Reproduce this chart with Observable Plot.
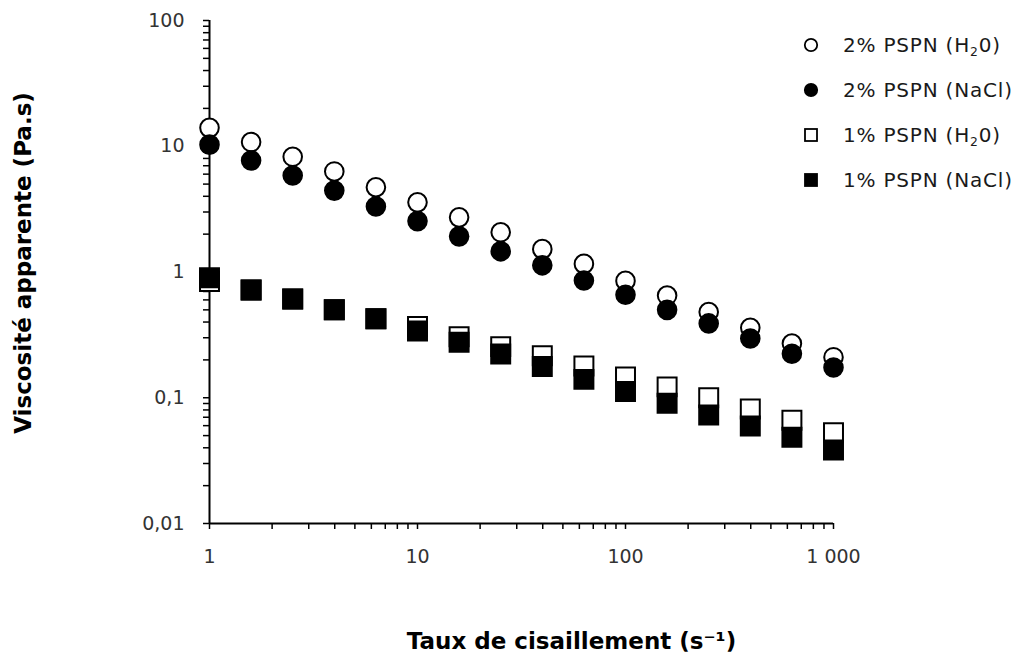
<!DOCTYPE html>
<html>
<head>
<meta charset="utf-8">
<script src="https://cdn.jsdelivr.net/npm/d3@7"></script>
<script src="https://cdn.jsdelivr.net/npm/@observablehq/plot@0.6"></script>
<style>
  body { margin: 0; background: #fff; }
  #wrap { position: relative; width: 1018px; height: 657px; }
  #legend { position: absolute; left: 801px; top: 22px; font-family: "DejaVu Sans", sans-serif; font-size: 20px; letter-spacing: 0.8px; color: #1a1a1a; }
  .row { display: flex; align-items: center; height: 45px; white-space: nowrap; }
  .row svg { width: 20px; height: 20px; margin-right: 22px; flex: none; }
  sub { font-size: 0.62em; vertical-align: -0.3em; line-height: 0; }
</style>
</head>
<body>
<div id="wrap"><div id="legend"></div></div>
<script>
// ---- data ----
const shearRate = [1, 1.585, 2.512, 3.981, 6.31, 10, 15.85, 25.12, 39.81, 63.1, 100, 158.5, 251.2, 398.1, 631, 1000];
const pspn2H2O  = [14.0, 10.8, 8.25, 6.3, 4.72, 3.58, 2.72, 2.07, 1.52, 1.16, 0.85, 0.65, 0.48, 0.36, 0.27, 0.21];
const pspn2NaCl = [10.3, 7.7, 5.85, 4.44, 3.32, 2.54, 1.92, 1.46, 1.13, 0.855, 0.66, 0.50, 0.39, 0.296, 0.224, 0.174];
const pspn1H2O  = [0.84, 0.72, 0.61, 0.50, 0.425, 0.369, 0.306, 0.255, 0.216, 0.179, 0.146, 0.122, 0.100, 0.0814, 0.0662, 0.0528];
const pspn1NaCl = [0.90, 0.72, 0.61, 0.50, 0.425, 0.34, 0.276, 0.223, 0.177, 0.140, 0.112, 0.0904, 0.073, 0.0596, 0.0485, 0.0384];
const seriesNames = ["2% PSPN (H20)", "2% PSPN (NaCl)", "1% PSPN (H20)", "1% PSPN (NaCl)"];
const xDecades = [1, 10, 100, 1000];
const yDecades = [0.01, 0.1, 1, 10, 100];
const xTitle = "Taux de cisaillement (s\u207B\u00B9)";
const yTitle = "Viscosité apparente (Pa.s)";

// ---- helpers ----
const locale = d3.formatLocale({decimal: ",", thousands: "\u00a0", grouping: [3], currency: ["", ""]});
const fmtX = locale.format(",");
const fmtY = locale.format("~g");
const minorTicks = decs => decs.slice(0, -1).flatMap(d => [1,2,3,4,5,6,7,8,9].map(k => +(d * k).toPrecision(6))).concat(decs.slice(-1));
const isDecade = v => Math.abs(Math.log10(v) - Math.round(Math.log10(v))) < 1e-9;
const xTicks = minorTicks(xDecades);
const yTicks = minorTicks(yDecades);
const rows = vals => shearRate.map((x, i) => ({x, y: vals[i]}));

const styles = [
  {symbol: "circle", fill: "white", r: 9.3},
  {symbol: "circle", fill: "black", r: 9.3},
  {symbol: "square", fill: "white", r: 10.7},
  {symbol: "square", fill: "black", r: 10.7}
];
const seriesVals = [pspn2H2O, pspn2NaCl, pspn1H2O, pspn1NaCl];

const chart = Plot.plot({
  width: 1018,
  height: 657,
  marginLeft: 209,
  marginRight: 185,
  marginTop: 20,
  marginBottom: 134,
  style: {fontFamily: "DejaVu Sans, sans-serif", background: "white", color: "black"},
  x: {type: "log", domain: [xDecades[0], xDecades[xDecades.length - 1]]},
  y: {type: "log", domain: [yDecades[0], yDecades[yDecades.length - 1]]},
  marks: [
    Plot.axisX(xTicks, {anchor: "bottom", tickSize: 6, tickPadding: 20, strokeWidth: 1.5, fontSize: 19, fill: "#333",
      tickFormat: d => isDecade(d) ? fmtX(d) : "", label: null}),
    Plot.axisY(yTicks, {anchor: "left", tickSize: 6, tickPadding: 19, strokeWidth: 1.5, fontSize: 19, fill: "#333",
      tickFormat: d => isDecade(d) ? fmtY(d) : "", label: null}),
    Plot.ruleX([xDecades[0]], {stroke: "black", strokeWidth: 2}),
    Plot.ruleY([yDecades[0]], {stroke: "black", strokeWidth: 2}),
    ...seriesVals.map((vals, i) => Plot.dot(rows(vals), {
      x: "x", y: "y", symbol: () => styles[i].symbol, r: styles[i].r,
      fill: styles[i].fill, stroke: "black", strokeWidth: 2
    })),
    Plot.text([xTitle], {text: d => d, frameAnchor: "bottom", dx: 50, dy: 118, lineAnchor: "middle", textAnchor: "middle",
      fontSize: 23, fontWeight: "bold", fill: "black"}),
    Plot.text([yTitle], {text: d => d, frameAnchor: "left", rotate: -90, dx: -186, dy: -9, lineAnchor: "middle", textAnchor: "middle",
      fontSize: 23, fontWeight: "bold", fill: "black"})
  ]
});
document.getElementById("wrap").prepend(chart);

// ---- legend ----
const legend = document.getElementById("legend");
seriesNames.forEach((name, i) => {
  const s = styles[i];
  const shape = s.symbol === "circle"
    ? `<circle cx="10" cy="10" r="6.2" fill="${s.fill}" stroke="black" stroke-width="1.8"/>`
    : `<rect x="4" y="4" width="12" height="12" fill="${s.fill}" stroke="black" stroke-width="1.8"/>`;
  const label = name.replace("H20", "H<sub>2</sub>0");
  const row = document.createElement("div");
  row.className = "row";
  row.innerHTML = `<svg viewBox="0 0 20 20">${shape}</svg><span>${label}</span>`;
  legend.appendChild(row);
});
</script>
</body>
</html>
